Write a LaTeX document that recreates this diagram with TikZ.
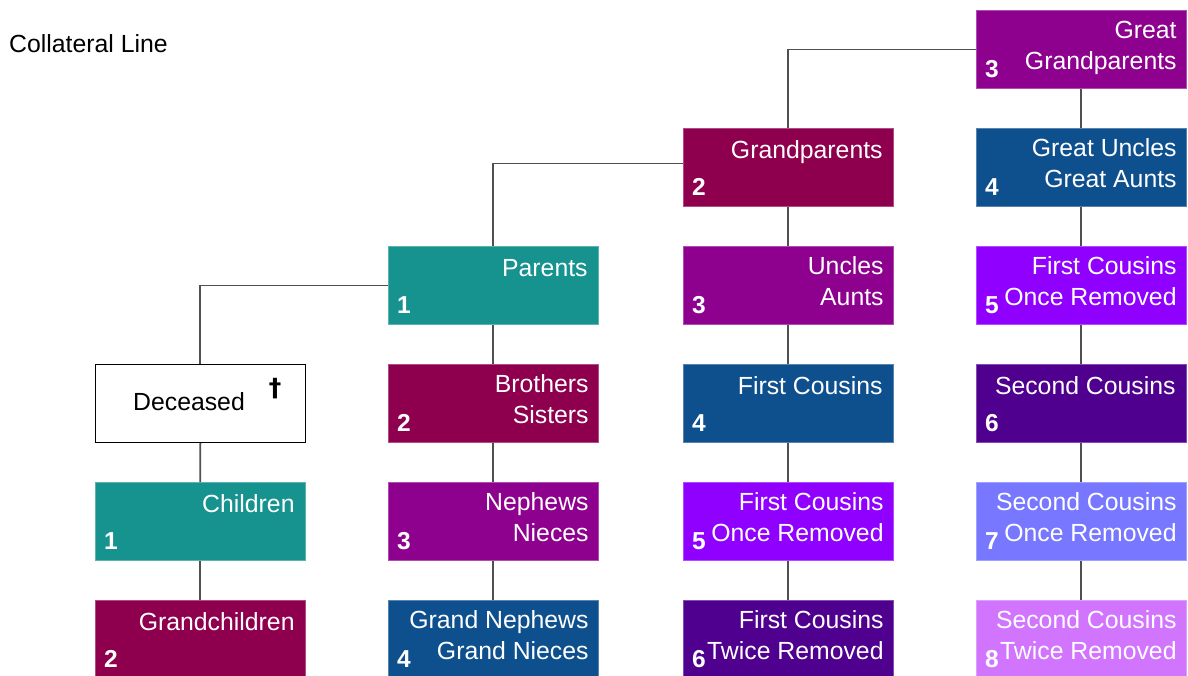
\documentclass[tikz,border=0pt]{standalone}
\usepackage{fontspec}
\setmainfont{Liberation Sans}
\newfontfamily\symfont{DejaVu Sans}

\definecolor{cTeal}{HTML}{16928F}
\definecolor{cMaroon}{HTML}{8E004E}
\definecolor{cPurple}{HTML}{8E008E}
\definecolor{cBlue}{HTML}{0E4F8E}
\definecolor{cViolet}{HTML}{8F00FF}
\definecolor{cIndigo}{HTML}{4F008E}
\definecolor{cPeri}{HTML}{7777FF}
\definecolor{cLilac}{HTML}{D175FF}
\definecolor{cLine}{HTML}{505050}

\tikzset{
  fam/.style={rectangle, minimum width=209.5pt, minimum height=78pt, anchor=north west,
    inner sep=0pt, fill=#1, draw=#1!70!white, line width=0.8pt},
  lbl/.style={text=white, font=\fontsize{24.8}{30}\selectfont, inner sep=0pt, anchor=base east},
  num/.style={text=white, font=\fontsize{24.5}{30}\selectfont\bfseries, inner sep=0pt, anchor=base west},
  link/.style={draw=cLine, line width=1.8pt},
}

% box with a two-line label: name, x, y, colour, line 1, line 2, number
\newcommand\famtwo[7]{%
  \node[fam=#4] (#1) at (#2,#3) {};
  \node[lbl] (#1-a) at ([xshift=-9.5pt,yshift=-28pt]#1.north east) {#5};
  \node[lbl] (#1-b) at ([xshift=-9.5pt,yshift=-59pt]#1.north east) {#6};
  \node[num] (#1-n) at ([xshift=9pt,yshift=-67pt]#1.north west) {#7};
}
% box with a one-line label: name, x, y, colour, label, number
\newcommand\famone[6]{%
  \node[fam=#4] (#1) at (#2,#3) {};
  \node[lbl] (#1-a) at ([xshift=-10.5pt,yshift=-30pt]#1.north east) {#5};
  \node[num] (#1-n) at ([xshift=9pt,yshift=-67pt]#1.north west) {#6};
}

\begin{document}
\begin{tikzpicture}[x=1pt,y=-1pt]
\useasboundingbox (0,0) rectangle (1188,675);

\node[anchor=base west, inner sep=0pt, font=\fontsize{24.8}{30}\selectfont] (title) at (9,52) {Collateral Line};

% column 0
\node[rectangle, minimum width=209.5pt, minimum height=78pt, anchor=north west,
  inner sep=0pt, fill=white, draw=black, line width=1.2pt] (dec) at (95,364) {};
\node[anchor=base, inner sep=0pt, font=\fontsize{24.8}{30}\selectfont] (dec-a) at (189,410) {Deceased};
\node[inner sep=0pt, font=\fontsize{25}{30}\symfont\bfseries] (dec-d) at (275,389) {†};
\famone{chi}{95}{482}{cTeal}{Children}{1}
\famone{gch}{95}{600}{cMaroon}{Grandchildren}{2}

% column 1
\famone{par}{388}{246}{cTeal}{Parents}{1}
\famtwo{sib}{388}{364}{cMaroon}{Brothers}{Sisters}{2}
\famtwo{nep}{388}{482}{cPurple}{Nephews}{Nieces}{3}
\famtwo{gnp}{388}{600}{cBlue}{Grand Nephews}{Grand Nieces}{4}

% column 2
\famone{gp}{683}{128}{cMaroon}{Grandparents}{2}
\famtwo{unc}{683}{246}{cPurple}{Uncles}{Aunts}{3}
\famone{fc}{683}{364}{cBlue}{First Cousins}{4}
\famtwo{fco}{683}{482}{cViolet}{First Cousins}{Once Removed}{5}
\famtwo{fct}{683}{600}{cIndigo}{First Cousins}{Twice Removed}{6}

% column 3
\famtwo{ggp}{976}{10}{cPurple}{Great}{Grandparents}{3}
\famtwo{gun}{976}{128}{cBlue}{Great Uncles}{Great Aunts}{4}
\famtwo{fcu}{976}{246}{cViolet}{First Cousins}{Once Removed}{5}
\famone{sc}{976}{364}{cIndigo}{Second Cousins}{6}
\famtwo{sco}{976}{482}{cPeri}{Second Cousins}{Once Removed}{7}
\famtwo{sct}{976}{600}{cLilac}{Second Cousins}{Twice Removed}{8}

% ascending line
\draw[link] (dec.north) |- (par.west);
\draw[link] (par.north) |- ([yshift=4pt]gp.west);
\draw[link] (gp.north) |- (ggp.west);

% descending lines
\draw[link] (dec.south) -- (chi.north);
\draw[link] (chi.south) -- (gch.north);
\draw[link] (par.south) -- (sib.north);
\draw[link] (sib.south) -- (nep.north);
\draw[link] (nep.south) -- (gnp.north);
\draw[link] (gp.south) -- (unc.north);
\draw[link] (unc.south) -- (fc.north);
\draw[link] (fc.south) -- (fco.north);
\draw[link] (fco.south) -- (fct.north);
\draw[link] (ggp.south) -- (gun.north);
\draw[link] (gun.south) -- (fcu.north);
\draw[link] (fcu.south) -- (sc.north);
\draw[link] (sc.south) -- (sco.north);
\draw[link] (sco.south) -- (sct.north);
\end{tikzpicture}
\end{document}
